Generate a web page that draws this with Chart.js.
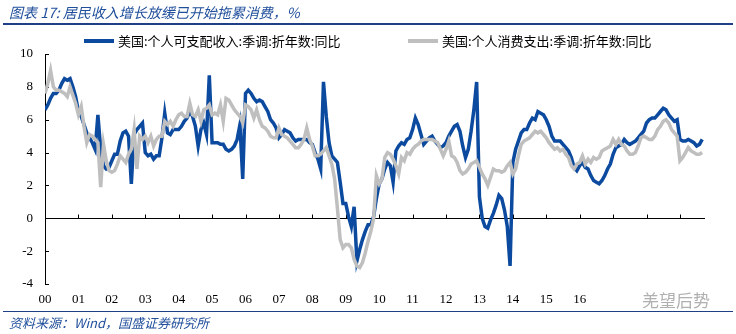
<!DOCTYPE html>
<html>
<head>
<meta charset="utf-8">
<script src="https://cdn.jsdelivr.net/npm/chart.js@4.4.1/dist/chart.umd.min.js"></script>
<style>
  html, body { margin: 0; padding: 0; background: #fff; }
  #wrap { position: relative; width: 736px; height: 334px; overflow: hidden; font-family: "Noto Sans CJK SC", sans-serif; }
  #chart { position: absolute; left: 0; top: 0; }
  .title { position: absolute; left: 9px; top: 2px; font-size: 14px; font-style: italic; color: #1f4e9b; white-space: nowrap; }
  .rule { position: absolute; left: 3px; width: 730px; background: #1f3f86; }
  .legend { position: absolute; top: 31px; height: 20px; font-size: 13px; line-height: 20px; color: #000; white-space: nowrap; }
  .legend span.swatch { position: absolute; top: 8px; width: 30px; height: 4px; }
  .legend span.text { position: absolute; left: 34px; top: 0; }
  .source { position: absolute; left: 9px; top: 313px; font-size: 13px; font-style: italic; color: #1f4e9b; white-space: nowrap; }
  .mark { position: absolute; left: 642px; top: 287px; font-size: 17px; color: #b0b0b0; white-space: nowrap; }
</style>
</head>
<body>
<div id="wrap">
  <canvas id="chart" width="736" height="334"></canvas>
  <div class="title">图表 17: 居民收入增长放缓已开始拖累消费，%</div>
  <div class="rule" style="top:23px;height:2px"></div>
  <div class="legend" style="left:84px"><span class="swatch" style="background:#0b4a9f"></span><span class="text">美国:个人可支配收入:季调:折年数:同比</span></div>
  <div class="legend" style="left:408px"><span class="swatch" style="background:#bfbfbf"></span><span class="text">美国:个人消费支出:季调:折年数:同比</span></div>
  <div class="rule" style="top:311px;height:1px"></div>
  <div class="source">资料来源：Wind，国盛证券研究所</div>
  <div class="mark">羌望后势</div>
</div>
<script>
// monthly yoy %, Jan 2000 .. Sep 2019
const incomeYoy = [
  6.6, 6.9, 7.3, 7.6, 7.6, 7.8, 8.2, 8.5, 8.4, 8.5, 8.0, 7.4,     // 2000
  6.5, 6.2, 5.7, 5.2, 4.9, 4.6, 4.2, 6.3, 4.2, 3.2, 3.0, 3.1,     // 2001
  3.5, 3.9, 3.9, 4.7, 5.2, 5.3, 5.0, 2.1, 5.1, 5.4, 5.6, 5.8,     // 2002
  4.0, 3.8, 3.9, 3.6, 3.8, 3.8, 4.9, 6.4, 5.2, 5.1, 5.4, 5.4,     // 2003
  5.4, 5.6, 5.9, 6.1, 6.5, 6.2, 5.6, 4.4, 5.4, 5.8, 5.1, 8.7,     // 2004
  4.6, 4.6, 4.6, 4.5, 4.5, 4.2, 4.1, 4.2, 4.4, 4.8, 5.7, 2.4,     // 2005
  7.6, 7.8, 7.6, 7.3, 7.1, 7.2, 7.1, 6.8, 6.5, 6.0, 5.8, 5.5,     // 2006
  4.9, 5.1, 5.4, 5.3, 5.2, 4.9, 4.7, 4.8, 4.8, 4.8, 4.8, 4.6,     // 2007
  4.5, 4.0, 3.6, 3.0, 8.3, 6.2, 4.6, 3.8, 3.6, 3.4, 2.2, 0.9,     // 2008
  0.9, 0.1, -0.5, 0.7, -2.6, -1.9, -1.3, -0.8, -0.4, -0.4, 0.1, 1.2, // 2009
  2.1, 2.4, 3.0, 3.4, 3.2, 2.2, 4.1, 4.4, 4.6, 4.5, 4.8, 4.9,     // 2010
  5.4, 6.1, 5.7, 5.1, 4.5, 4.7, 4.9, 5.0, 4.7, 4.5, 4.3, 4.4,     // 2011
  4.6, 5.0, 5.3, 5.6, 5.7, 5.3, 4.4, 3.7, 4.2, 5.3, 6.6, 8.3,     // 2012
  1.3, 0.0, -0.5, -0.6, -0.1, 0.3, 0.8, 1.4, 1.2, 0.5, -0.5, -2.9, // 2013
  3.4, 4.2, 4.7, 5.2, 5.4, 5.4, 5.8, 6.1, 6.0, 6.5, 6.4, 6.3,     // 2014
  6.0, 5.6, 5.0, 4.7, 4.7, 4.7, 4.5, 4.3, 4.1, 3.7, 3.1, 2.9,     // 2015
  3.2, 3.4, 3.1, 3.0, 2.6, 2.3, 2.2, 2.1, 2.3, 2.6, 3.0, 3.3,     // 2016
  3.9, 4.3, 4.4, 4.5, 4.8, 4.6, 4.5, 4.6, 4.7, 4.9, 5.1, 5.3,     // 2017
  5.8, 6.0, 6.1, 6.1, 6.3, 6.5, 6.7, 6.6, 6.3, 6.1, 5.9, 6.0,     // 2018
  4.8, 4.7, 4.7, 4.8, 4.7, 4.6, 4.4, 4.5, 4.8                     // 2019
];
const spendingYoy = [
  7.6, 8.2, 9.0, 8.0, 7.8, 7.8, 7.7, 7.6, 7.4, 8.0, 7.5, 7.0,     // 2000
  6.3, 6.8, 5.6, 4.6, 5.1, 5.0, 4.8, 4.6, 1.9, 4.5, 3.5, 2.9,     // 2001
  2.8, 2.9, 3.3, 3.8, 3.6, 3.4, 3.9, 4.2, 5.4, 3.0, 5.0, 4.8,     // 2002
  5.0, 4.6, 5.0, 4.4, 4.8, 5.0, 5.0, 5.9, 5.7, 5.9, 5.6, 6.0,     // 2003
  6.3, 6.4, 6.2, 6.2, 7.0, 6.3, 6.2, 6.6, 5.9, 6.6, 6.7, 6.9,     // 2004
  6.3, 6.4, 6.3, 6.9, 5.9, 7.3, 7.2, 6.9, 6.6, 6.4, 6.2, 5.8,     // 2005
  6.9, 6.8, 6.6, 6.1, 6.6, 6.0, 5.6, 5.5, 5.3, 5.0, 4.9, 4.9,     // 2006
  5.5, 5.1, 5.0, 4.9, 4.7, 4.5, 4.3, 4.3, 4.5, 4.8, 5.5, 4.8,     // 2007
  4.4, 3.8, 3.8, 3.9, 4.1, 4.3, 3.8, 3.3, 2.4, 0.6, -1.3, -1.8,   // 2008
  -1.6, -1.6, -1.8, -2.5, -2.9, -3.0, -2.7, -2.1, -1.4, -0.8, 0.0, 2.6, // 2009
  2.1, 2.4, 3.7, 4.0, 3.9, 3.6, 3.2, 2.7, 3.7, 3.5, 4.0, 3.9,     // 2010
  4.2, 4.4, 4.5, 4.7, 4.8, 4.8, 4.8, 4.8, 4.7, 4.6, 4.2, 3.8,     // 2011
  4.2, 4.7, 3.8, 3.7, 3.4, 2.9, 2.7, 2.8, 3.0, 3.3, 3.4, 3.5,     // 2012
  3.1, 2.7, 2.4, 2.0, 2.5, 3.0, 2.9, 2.9, 2.8, 2.9, 3.2, 3.4,     // 2013
  2.7, 3.0, 3.8, 4.5, 4.7, 4.8, 4.9, 5.1, 5.3, 5.2, 5.3, 5.1,     // 2014
  4.9, 4.6, 4.4, 4.2, 4.3, 4.1, 4.2, 3.9, 3.7, 3.2, 3.0, 3.3,     // 2015
  3.4, 3.8, 3.3, 3.6, 3.4, 3.7, 3.6, 3.7, 4.1, 4.2, 4.3, 4.4,     // 2016
  4.8, 4.5, 4.8, 4.5, 4.4, 4.1, 3.9, 3.9, 4.0, 4.4, 4.9, 5.0,     // 2017
  4.9, 4.8, 4.8, 5.0, 5.4, 5.6, 5.9, 6.0, 5.8, 5.4, 5.2, 5.0,     // 2018
  3.5, 3.7, 4.0, 4.3, 4.1, 4.0, 3.9, 3.9, 4.0                     // 2019
];
const yearLabels = ['00', '01', '02', '03', '04', '05', '06', '07', '08', '09', '10', '11', '12', '13', '14', '15', '16'];
const yTicks = [-4, -2, 0, 2, 4, 6, 8, 10];
const seriesNames = ['美国:个人可支配收入:季调:折年数:同比', '美国:个人消费支出:季调:折年数:同比'];

const monthCount = incomeYoy.length;
const toPoints = arr => arr.map((v, i) => ({ x: i, y: v }));

// zero line, inward y ticks and year ticks sitting on the zero line
const axisMarks = {
  id: 'axisMarks',
  beforeDatasetsDraw(chart) {
    const { ctx, chartArea, scales: { x, y } } = chart;
    const y0 = Math.round(y.getPixelForValue(0)) + 0.5;
    ctx.save();
    ctx.strokeStyle = '#000';
    ctx.lineWidth = 1;
    ctx.beginPath();
    ctx.moveTo(chartArea.left, y0);
    ctx.lineTo(chartArea.right, y0);
    yTicks.forEach(v => {
      const py = Math.round(y.getPixelForValue(v)) + 0.5;
      ctx.moveTo(chartArea.left, py);
      ctx.lineTo(chartArea.left + 4, py);
    });
    for (let m = 12; m < monthCount; m += 12) {
      const px = Math.round(x.getPixelForValue(m)) + 0.5;
      ctx.moveTo(px, y0);
      ctx.lineTo(px, y0 - 4);
    }
    ctx.stroke();
    ctx.restore();
  }
};

new Chart(document.getElementById('chart'), {
  type: 'line',
  data: {
    datasets: [
      {
        label: seriesNames[0],
        data: toPoints(incomeYoy),
        borderColor: '#0b4a9f',
        borderWidth: 3.5,
        pointRadius: 0,
        tension: 0,
        order: 1
      },
      {
        label: seriesNames[1],
        data: toPoints(spendingYoy),
        borderColor: '#bfbfbf',
        borderWidth: 3.5,
        pointRadius: 0,
        tension: 0,
        order: 0
      }
    ]
  },
  options: {
    responsive: false,
    animation: false,
    events: [],
    layout: { padding: { left: 0, right: 31, top: 54, bottom: 20 } },
    plugins: { legend: { display: false }, tooltip: { enabled: false } },
    scales: {
      x: {
        type: 'linear',
        min: 0,
        max: monthCount,
        afterFit: s => { s.height = 30; },
        grid: { display: false, drawTicks: false },
        border: { display: false },
        ticks: {
          stepSize: 12,
          autoSkip: false,
          maxRotation: 0,
          padding: 8,
          color: '#000',
          font: { family: 'Liberation Serif', size: 13 },
          callback: v => (v % 12 === 0 && yearLabels[v / 12] !== undefined) ? yearLabels[v / 12] : ''
        }
      },
      y: {
        min: -4,
        max: 10,
        afterFit: s => { s.width = 45; },
        grid: { display: false, drawTicks: false },
        border: { display: true, color: '#000', width: 1 },
        ticks: {
          stepSize: 2,
          padding: 12,
          color: '#000',
          font: { family: 'Liberation Serif', size: 13 }
        }
      }
    }
  },
  plugins: [axisMarks]
});
</script>
</body>
</html>
